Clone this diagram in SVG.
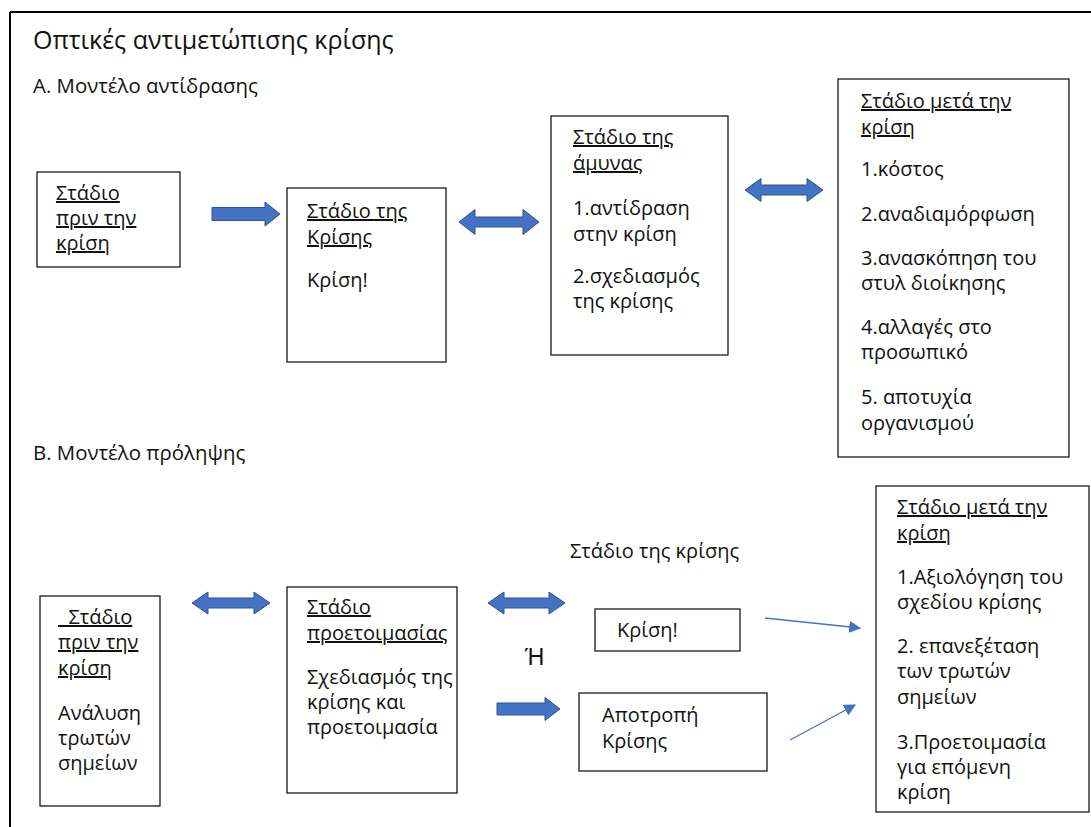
<svg xmlns="http://www.w3.org/2000/svg" width="1091" height="827" viewBox="0 0 1091 827">
<defs>
<style>
text{font-family:"Open Sans","Noto Sans",sans-serif;font-size:20px;fill:#111}
.t{font-size:25px}
.h{font-size:20.4px}
.u{text-decoration:underline}
.box{fill:#fff;stroke:#1a1a1a;stroke-width:1.3}
.blk{fill:#4472C4;stroke:#2F528F;stroke-width:1}
.thin{stroke:#4472C4;stroke-width:1.3;fill:none}
.or{font-family:"Liberation Sans",Arial,sans-serif;font-size:23px}
</style>
<marker id="ah" viewBox="0 0 10 10" refX="9" refY="5" markerWidth="12" markerHeight="12" markerUnits="userSpaceOnUse" orient="auto">
<path d="M0,0 L10,5 L0,10 Z" fill="#4472C4"/>
</marker>
</defs>
<rect width="1091" height="827" fill="#fff"/>
<g id="frame">
<line x1="10" y1="12" x2="1091" y2="12" stroke="#000" stroke-width="2"/>
<line x1="10" y1="12" x2="10" y2="827" stroke="#000" stroke-width="2"/>
</g>
<g id="titles">
<text class="t" x="33" y="49">Οπτικές αντιμετώπισης κρίσης</text>
<text class="h" x="33" y="93">Α. Μοντέλο αντίδρασης</text>
<text class="h" x="33" y="460">Β. Μοντέλο πρόληψης</text>
</g>
<g id="connectors">
<path class="blk" d="M212,207.5 L265,207.5 L265,202 L280,214 L265,226 L265,220.5 L212,220.5 Z"/>
<path class="blk" d="M459,222 L475,209.5 L475,217 L523,217 L523,209.5 L539,222 L523,234.5 L523,227 L475,227 L475,234.5 Z"/>
<path class="blk" d="M745,190 L761,178.5 L761,185 L807,185 L807,178.5 L823,190 L807,201.5 L807,195 L761,195 L761,201.5 Z"/>
<path class="blk" d="M192,603 L208,592 L208,598 L254,598 L254,592 L270,603 L254,614 L254,608 L208,608 L208,614 Z"/>
<path class="blk" d="M488,603 L504,592 L504,598 L549,598 L549,592 L565,603 L549,614 L549,608 L504,608 L504,614 Z"/>
<path class="blk" d="M497,703 L545,703 L545,697.5 L560,709 L545,720.5 L545,715 L497,715 Z"/>
<line class="thin" x1="765" y1="618" x2="860" y2="628" marker-end="url(#ah)"/>
<line class="thin" x1="790" y1="740" x2="855" y2="705" marker-end="url(#ah)"/>
</g>
<g id="n1">
<rect class="box" x="37" y="172" width="143" height="95"/>
<text class="u" x="56" y="200">Στάδιο</text>
<text class="u" x="56" y="225">πριν την</text>
<text class="u" x="56" y="250">κρίση</text>
</g>
<g id="n2">
<rect class="box" x="287" y="188" width="159" height="174"/>
<text class="u" x="307" y="218">Στάδιο της</text>
<text class="u" x="307" y="244">Κρίσης</text>
<text x="307" y="287">Κρίση!</text>
</g>
<g id="n3">
<rect class="box" x="551" y="116" width="177" height="239"/>
<text class="u" x="573" y="144">Στάδιο της</text>
<text class="u" x="573" y="170">άμυνας</text>
<text x="573" y="215">1.αντίδραση</text>
<text x="573" y="241">στην κρίση</text>
<text x="573" y="283">2.σχεδιασμός</text>
<text x="573" y="308">της κρίσης</text>
</g>
<g id="n4">
<rect class="box" x="838" y="79" width="231" height="378"/>
<text class="u" x="861" y="108">Στάδιο μετά την</text>
<text class="u" x="861" y="134">κρίση</text>
<text x="861" y="176">1.κόστος</text>
<text x="861" y="221">2.αναδιαμόρφωση</text>
<text x="861" y="265">3.ανασκόπηση του</text>
<text x="861" y="290">στυλ διοίκησης</text>
<text x="861" y="334">4.αλλαγές στο</text>
<text x="861" y="359">προσωπικό</text>
<text x="861" y="404">5. αποτυχία</text>
<text x="861" y="430">οργανισμού</text>
</g>
<g id="n5">
<rect class="box" x="40" y="596" width="120" height="210"/>
<text class="u" x="58" y="624" xml:space="preserve">  Στάδιο</text>
<text class="u" x="58" y="649">πριν την</text>
<text class="u" x="58" y="675">κρίση</text>
<text x="58" y="720">Ανάλυση</text>
<text x="58" y="745">τρωτών</text>
<text x="58" y="770">σημείων</text>
</g>
<g id="n6">
<rect class="box" x="287" y="587" width="170" height="206"/>
<text class="u" x="307" y="614">Στάδιο</text>
<text class="u" x="307" y="640">προετοιμασίας</text>
<text x="307" y="684">Σχεδιασμός της</text>
<text x="307" y="709">κρίσης και</text>
<text x="307" y="734">προετοιμασία</text>
</g>
<g id="label-stage">
<text x="570" y="558">Στάδιο της κρίσης</text>
</g>
<g id="label-or">
<text class="or" x="525" y="665">Ή</text>
</g>
<g id="n7">
<rect class="box" x="595" y="609" width="145" height="42"/>
<text x="617" y="637">Κρίση!</text>
</g>
<g id="n8">
<rect class="box" x="579" y="693" width="188" height="78"/>
<text x="602" y="722">Αποτροπή</text>
<text x="602" y="748">Κρίσης</text>
</g>
<g id="n9">
<rect class="box" x="876" y="486" width="213" height="326"/>
<text class="u" x="897" y="514">Στάδιο μετά την</text>
<text class="u" x="897" y="540">κρίση</text>
<text x="897" y="584">1.Αξιολόγηση του</text>
<text x="897" y="609">σχεδίου κρίσης</text>
<text x="897" y="653">2. επανεξέταση</text>
<text x="897" y="678">των τρωτών</text>
<text x="897" y="704">σημείων</text>
<text x="897" y="749">3.Προετοιμασία</text>
<text x="897" y="774">για επόμενη</text>
<text x="897" y="799">κρίση</text>
</g>
</svg>
